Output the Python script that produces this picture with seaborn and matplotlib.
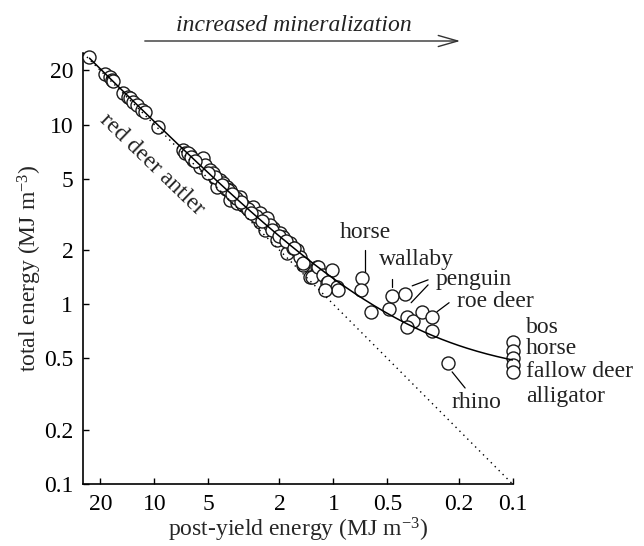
import numpy as np
import pandas as pd
import matplotlib
matplotlib.use("Agg")
import matplotlib.pyplot as plt
import seaborn as sns
from matplotlib.ticker import NullLocator, FixedLocator, FixedFormatter

# ---------------- data ----------------
post_yield = [
    23.0, 18.8, 17.6, 17.2, 16.9, 14.9, 14.1, 13.6, 13.1, 12.5, 11.7, 11.2, 9.5,
    6.89, 6.71, 6.30, 6.06, 5.33, 5.54, 5.19, 4.87, 4.69, 4.57, 4.45, 4.28, 4.12,
    3.91, 3.77, 3.77, 3.62, 3.31, 3.44, 3.19, 3.03, 2.91, 2.80, 2.66, 2.56, 2.47,
    2.34, 2.56, 2.40, 2.17, 2.25, 2.06, 1.98, 1.91, 1.74, 1.81, 1.68, 1.59, 1.53,
    1.47, 1.47, 1.35, 1.23, 1.31, 1.22, 1.14, 1.02, 1.08, 1.07, 0.95, 0.94, 1.11,
    4.6, 4.0, 3.5, 3.0, 2.7, 5.0, 3.9, 3.3, 2.9, 2.5, 2.2, 2.0, 1.85, 1.65,
    6.5, 6.2, 5.9, 4.2, 3.7,
    0.69, 0.70, 0.62, 0.49, 0.47, 0.40, 0.39, 0.36, 0.39, 0.32, 0.28, 0.28,
    0.23,
    0.1, 0.1, 0.1, 0.1, 0.1,
]
total = [
    23.8, 19.0, 18.3, 17.8, 17.4, 15.0, 14.3, 14.0, 13.4, 12.9, 12.1, 11.8, 9.7,
    7.24, 6.97, 6.79, 6.37, 6.53, 5.82, 5.97, 5.60, 5.39, 5.06, 4.50, 4.93, 4.74,
    4.50, 4.34, 3.81, 4.07, 3.96, 3.67, 3.58, 3.44, 3.35, 3.49, 3.15, 3.23, 2.95,
    3.03, 2.88, 2.60, 2.66, 2.77, 2.28, 2.50, 2.37, 2.20, 1.93, 2.06, 2.01, 1.84,
    1.66, 1.70, 1.42, 1.62, 1.42, 1.62, 1.46, 1.55, 1.32, 1.33, 1.25, 1.20, 1.20,
    5.1, 4.4, 3.9, 3.4, 3.1, 5.4, 4.3, 3.7, 3.2, 2.9, 2.6, 2.4, 2.25, 2.05,
    6.9, 6.6, 6.3, 4.6, 4.1,
    1.40, 1.20, 0.90, 0.94, 1.11, 1.14, 0.85, 0.81, 0.75, 0.91, 0.85, 0.71,
    0.47,
    0.62, 0.55, 0.50, 0.46, 0.42,
]

# fitted model: total = post-yield + constant pre-yield energy
pre_yield_energy = 0.39
fit_range = (23.0, 0.1)

tick_values = [20, 10, 5, 2, 1, 0.5, 0.2, 0.1]
tick_labels = ["20", "10", "5", "2", "1", "0.5", "0.2", "0.1"]

label_texts = ["horse", "wallaby", "penguin", "roe deer", "rhino",
               "bos", "horse", "fallow deer", "alligator"]
label_x = [0.665, 0.345, 0.270, 0.2038, 0.2202, 0.084, 0.084, 0.084, 0.084]
label_y = [2.50, 1.767, 1.367, 1.031, 0.2825, 0.739, 0.5645, 0.4206, 0.3051]
label_ha = ["center", "center", "left", "left", "left", "left", "left", "left", "left"]

leader_x0 = [0.665, 0.47, 0.296, 0.296, 0.226, 0.2174]
leader_y0 = [2.01, 1.385, 1.367, 1.282, 1.02, 0.4206]
leader_x1 = [0.665, 0.47, 0.363, 0.368, 0.2634, 0.1839]
leader_y1 = [1.515, 1.25, 1.266, 1.02, 0.91, 0.342]

# ---------------- style ----------------
sns.set_style("ticks")
plt.rcParams["font.family"] = ["Liberation Serif", "DejaVu Serif"]
plt.rcParams["font.serif"] = ["Liberation Serif", "DejaVu Serif"]
plt.rcParams["mathtext.fontset"] = "custom"
plt.rcParams["mathtext.rm"] = "Liberation Serif"
plt.rcParams["mathtext.it"] = "Liberation Serif:italic"

SERIF = "Liberation Serif"
FS = 17

fig = plt.figure(figsize=(6.44, 5.46), dpi=100)
ax = fig.add_axes([83 / 644, 1 - 484 / 546, (512.5 - 83) / 644, (484 - 53) / 546])

df = pd.DataFrame({"post": post_yield, "total": total})
sns.scatterplot(data=df, x="post", y="total", ax=ax, s=88, marker="o",
                facecolor="white", edgecolor="#1a1a1a", linewidth=1.0,
                clip_on=False, zorder=3, legend=False)

fit_x = np.geomspace(fit_range[0], fit_range[1], 300)
fit_df = pd.DataFrame({"post": fit_x, "total": fit_x + pre_yield_energy})
sns.lineplot(data=fit_df, x="post", y="total", ax=ax, color="black", lw=1.1,
             zorder=4, sort=False)

diag = np.array([25, 0.1])
ax.plot(diag, diag, color="black", lw=1.0, ls=(0, (1, 3)), zorder=4)

ax.set_xscale("log")
ax.set_yscale("log")
ax.set_xlim(25, 0.1)
ax.set_ylim(0.1, 25)
for axis in (ax.xaxis, ax.yaxis):
    axis.set_major_locator(FixedLocator(tick_values))
    axis.set_major_formatter(FixedFormatter(tick_labels))
    axis.set_minor_locator(NullLocator())

ax.tick_params(direction="in", length=4, width=1, labelsize=FS, pad=7,
               colors="black")
for lab in ax.get_xticklabels() + ax.get_yticklabels():
    lab.set_fontfamily(SERIF)
for side in ("top", "right"):
    ax.spines[side].set_visible(False)
for side in ("left", "bottom"):
    ax.spines[side].set_linewidth(1.2)
    ax.spines[side].set_color("black")

ax.set_xlabel("post-yield energy (MJ m$^{-3}$)", fontsize=FS, labelpad=1,
              fontfamily=SERIF)
ax.set_ylabel("total energy (MJ m$^{-3}$)", fontsize=FS, labelpad=0,
              fontfamily=SERIF)

ax.text(10.26, 5.97, "red deer antler", rotation=-44, rotation_mode="anchor",
        ha="center", va="center", fontsize=FS, color="#222222", fontfamily=SERIF)

for t, x, y, ha in zip(label_texts, label_x, label_y, label_ha):
    ax.text(x, y, t, ha=ha, va="center", fontsize=FS, color="#222222",
            fontfamily=SERIF)

for xa, ya, xb, yb in zip(leader_x0, leader_y0, leader_x1, leader_y1):
    ax.plot([xa, xb], [ya, yb], color="black", lw=0.9, clip_on=False)

fig.text(0.457, 0.954, "increased mineralization", ha="center", va="center",
         fontsize=FS, style="italic", color="#222222", fontfamily=SERIF)
fig.patches.append(matplotlib.patches.FancyArrowPatch(
    (142 / 644, 1 - 41 / 546), (463 / 644, 1 - 41 / 546),
    transform=fig.transFigure, arrowstyle="->,head_length=1.4,head_width=0.4",
    mutation_scale=10, lw=1.0, color="#333333"))

fig.savefig("out.png", dpi=100)
